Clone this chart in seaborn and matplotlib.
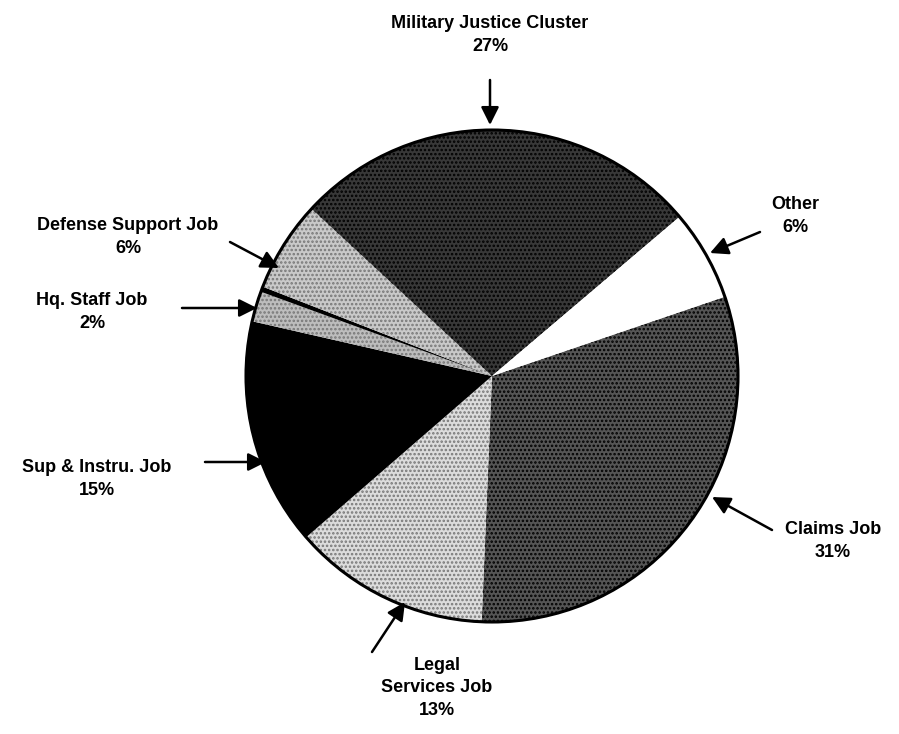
import matplotlib
matplotlib.use("Agg")
import matplotlib.pyplot as plt
import seaborn as sns
import numpy as np

# ── Data ──────────────────────────────────────────────────────────────────────
labels = ["Claims Job", "Legal\nServices Job", "Sup & Instru. Job", "Hq. Staff Job",
          "", "Defense Support Job", "Military Justice Cluster", "Other"]
pcts = [31, 13, 15, 2, 0.35, 6, 27, 6]
pct_text = ["31%", "13%", "15%", "2%", "", "6%", "27%", "6%"]
shades = ["#555555", "#dcdcdc", "#000000", "#bdbdbd", "#000000", "#c9c9c9", "#383838", "#ffffff"]

# ── Setup ─────────────────────────────────────────────────────────────────────
sns.set_theme(style="white")
plt.rcParams["font.family"] = ["Liberation Sans", "DejaVu Sans"]
plt.rcParams["text.color"] = "black"
plt.rcParams["hatch.linewidth"] = 1.2

W, H = 899, 734
cx, cy, R = 492, 376, 246

fig = plt.figure(figsize=(W / 100, H / 100), dpi=100)
ax = fig.add_axes([0, 0, 1, 1])


def px(x, y):
    return ((x - cx) / R, (cy - y) / R)


wedges, _ = ax.pie(pcts, startangle=18.8, counterclock=False, colors=shades,
                   radius=1.0, wedgeprops={"linewidth": 0})
ax.set_aspect("auto")
ax.set_xlim(-cx / R, (W - cx) / R)
ax.set_ylim(-(H - cy) / R, cy / R)
ax.axis("off")

for w, c in zip(wedges, shades):
    if c not in ("#000000", "#ffffff"):
        w.set_hatch("....")
        w.set_edgecolor("#000000" if c in ("#555555", "#383838") else "#777777")
        w.set_linewidth(0)
ax.add_patch(plt.Circle((0, 0), 1.0, fill=False, edgecolor="black", linewidth=2.2))

# label positions (text centre, arrow tail, arrow tip) in pixels
place = {
    0: ((833, 541), (772, 530), (712, 497)),
    1: ((437, 688), (372, 652), (405, 602)),
    2: ((97, 479), (205, 462), (266, 462)),
    3: ((92, 312), (182, 308), (257, 308)),
    5: ((128, 237), (230, 242), (279, 268)),
    6: ((490, 35), (490, 80), (490, 125)),
    7: ((795, 216), (760, 232), (710, 253)),
}
for i, (txt, tail, tip) in place.items():
    ax.text(*px(*txt), f"{labels[i]}\n{pct_text[i]}", ha="center", va="center",
            fontsize=13, fontweight="bold", linespacing=1.45, color="black")
    ax.annotate("", xy=px(*tip), xytext=px(*tail),
                arrowprops=dict(arrowstyle="-|>,head_length=0.9,head_width=0.45",
                                color="black", lw=1.8, shrinkA=0, shrinkB=0))

fig.savefig("out.png", dpi=100, facecolor="white")
